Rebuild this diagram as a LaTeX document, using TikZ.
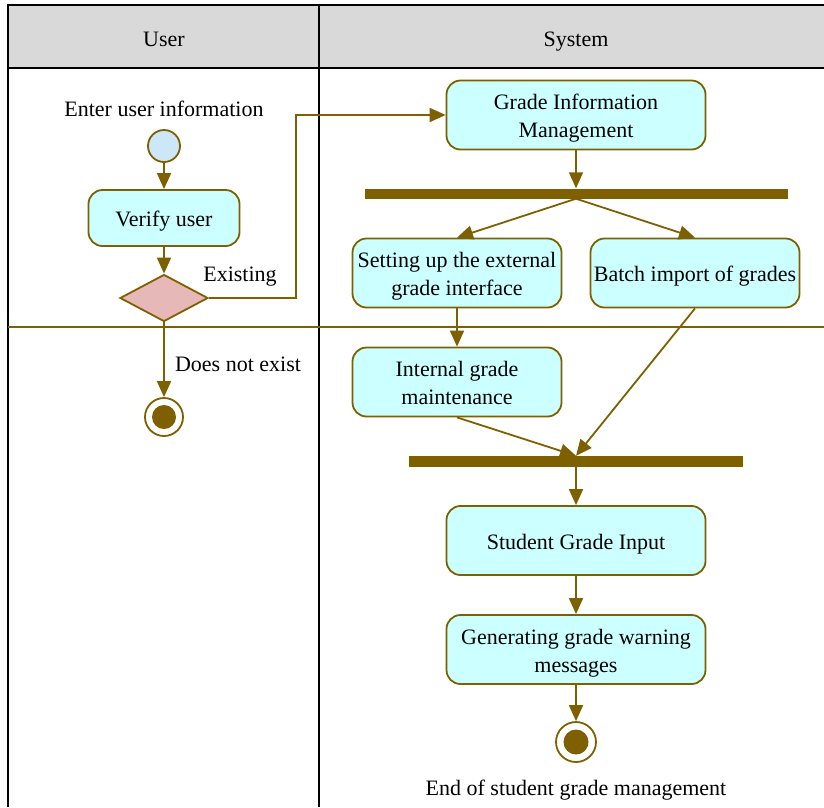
\documentclass[tikz,border=0pt]{standalone}
\usepackage{fontspec}
\setmainfont{Liberation Serif}
\usetikzlibrary{shapes.geometric,arrows.meta}

\definecolor{umlbrown}{HTML}{7F6000}
\definecolor{actfill}{HTML}{CCFFFF}
\definecolor{startfill}{HTML}{CCE8F8}
\definecolor{decfill}{HTML}{E6B8B7}
\definecolor{headfill}{HTML}{D9D9D9}

\tikzset{
  actbox/.style={draw=umlbrown,line width=1.8pt,fill=actfill,rounded corners=14pt,
    minimum width=209pt,minimum height=69pt,align=center,inner sep=2pt,
    text height=22pt,text depth=5pt},
  twoline/.style={text height=50pt},
  bar/.style={fill=umlbrown,inner sep=0pt,minimum height=10pt},
  flow/.style={draw=umlbrown,line width=1.8pt,-{Triangle[length=16pt,width=14pt]}},
  txt/.style={text height=15pt,text depth=5pt,inner sep=0pt}
}

\begin{document}
\begin{tikzpicture}[x=1pt,y=-1pt,font=\fontsize{22}{28}\selectfont]
  \useasboundingbox (0,0) rectangle (824,807);

  \fill[headfill] (8,5) rectangle (824,68);
  \draw[line width=2pt] (824,5) -- (8,5) -- (8,807);
  \draw[line width=2pt] (8,68) -- (824,68);
  \draw[line width=2pt] (319,5) -- (319,807);
  \draw[umlbrown,line width=1.4pt] (8,327) -- (824,327);
  \node[txt] (huser) at (164,41) {User};
  \node[txt] (hsys) at (576,41) {System};

  \node[txt] (entertxt) at (164,111) {Enter user information};
  \node[circle,draw=umlbrown,line width=1.8pt,fill=startfill,minimum size=32pt,inner sep=0pt] (start) at (164,146) {};
  \node[actbox,minimum width=151pt,minimum height=56pt] (verify) at (164,218) {Verify user};
  \node[diamond,draw=umlbrown,line width=1.8pt,fill=decfill,minimum width=88pt,minimum height=47pt,inner sep=0pt] (dec) at (164,298) {};
  \node[txt] (existtxt) at (240,276) {Existing};
  \node[txt] (notexist) at (238,366) {Does not exist};
  \node[circle,draw=umlbrown,line width=1.8pt,fill=white,minimum size=38pt,inner sep=0pt] (end1) at (164,417) {};
  \fill[umlbrown] (end1) circle (12);

  \node[actbox,twoline,minimum width=259pt] (gim) at (576,115) {Grade Information\\Management};
  \node[bar,minimum width=423pt] (fork) at (576,193.5) {};
  \node[actbox,twoline] (ext) at (457,273) {Setting up the external\\grade interface};
  \node[actbox] (batch) at (695,273) {Batch import of grades};
  \node[actbox,twoline] (intern) at (457,382) {Internal grade\\maintenance};
  \node[bar,minimum width=334pt,minimum height=11pt] (join) at (576,461.5) {};
  \node[actbox,minimum width=259pt] (input) at (576,540.5) {Student Grade Input};
  \node[actbox,twoline,minimum width=259pt] (warn) at (576,649.5) {Generating grade warning\\messages};
  \node[circle,draw=umlbrown,line width=1.8pt,fill=white,minimum size=40pt,inner sep=0pt] (end2) at (576,742) {};
  \fill[umlbrown] (end2) circle (12.5);
  \node[txt] (endtxt) at (576,790) {End of student grade management};

  \draw[flow] (start) -- (verify);
  \draw[flow] (verify) -- (dec);
  \draw[flow] (dec) -- (end1);
  \draw[flow] (dec.east) -| ([xshift=-150pt]gim.west) -- (gim.west);
  \draw[flow] (gim) -- (fork);
  \draw[flow] (fork.south) -- (ext.north);
  \draw[flow] (fork.south) -- (batch.north);
  \draw[flow] (ext) -- (intern);
  \draw[flow] (intern.south) -- (join.north);
  \draw[flow] (batch.south) -- (join.north);
  \draw[flow] (join) -- (input);
  \draw[flow] (input) -- (warn);
  \draw[flow] (warn) -- (end2);
\end{tikzpicture}
\end{document}
